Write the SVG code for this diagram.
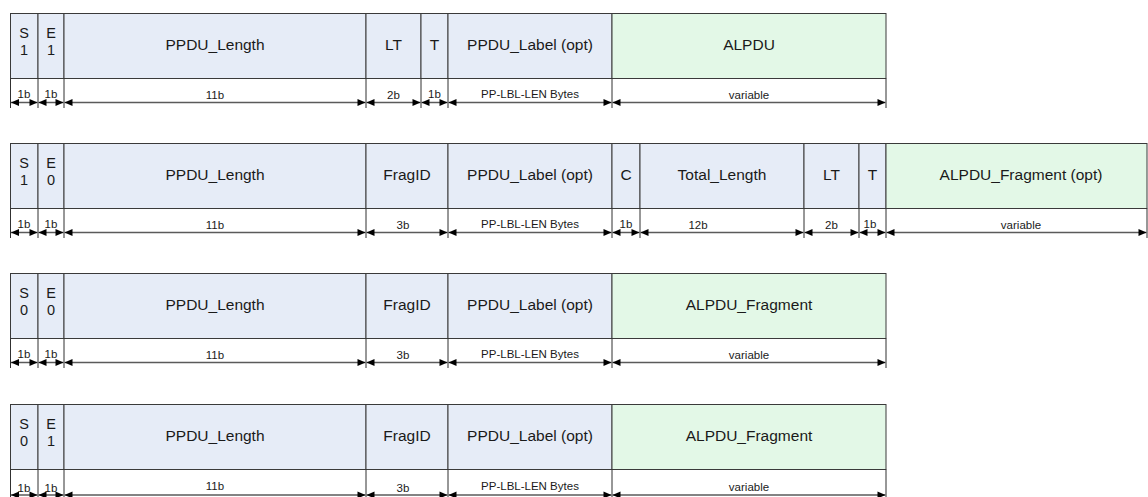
<svg xmlns="http://www.w3.org/2000/svg" width="1148" height="497" viewBox="0 0 1148 497">
<style>
.b{fill:#e6ecf7;stroke:#3a3a3a;stroke-width:1}
.g{fill:#e3f8e7;stroke:#3a3a3a;stroke-width:1}
.v{stroke:#303030;stroke-width:1;fill:none}
.t{font-family:"Liberation Sans",Arial,sans-serif;font-size:15.5px;fill:#1a1a1a;text-anchor:middle}
.se{font-size:14.5px}
.s{font-family:"Liberation Sans",Arial,sans-serif;font-size:11.5px;fill:#1a1a1a;text-anchor:middle}
.a{stroke:#5a5a5a;stroke-width:1.5;fill:none;marker-start:url(#ms);marker-end:url(#me)}
</style>
<defs>
<marker id="me" markerUnits="userSpaceOnUse" markerWidth="9" markerHeight="9" viewBox="0 0 9 9" refX="8.5" refY="4.5" orient="auto"><path d="M0.5,1 L8.5,4.5 L0.5,8 Z" fill="#000"/></marker>
<marker id="ms" markerUnits="userSpaceOnUse" markerWidth="9" markerHeight="9" viewBox="0 0 9 9" refX="0.5" refY="4.5" orient="auto"><path d="M8.5,1 L0.5,4.5 L8.5,8 Z" fill="#000"/></marker>
</defs>
<rect width="1148" height="497" fill="#fff"/>

<!-- Row 1 -->
<g id="r1-S"><rect class="b" x="10.5" y="13.5" width="27.5" height="65"/><text class="t se" x="24" y="38">S</text><text class="t se" x="24" y="54.5">1</text></g>
<g id="r1-E"><rect class="b" x="38" y="13.5" width="26" height="65"/><text class="t se" x="51" y="38">E</text><text class="t se" x="51" y="54.5">1</text></g>
<g id="r1-PPDU_Length"><rect class="b" x="64" y="13.5" width="302" height="65"/><text class="t" x="215" y="50">PPDU_Length</text></g>
<g id="r1-LT"><rect class="b" x="366" y="13.5" width="55" height="65"/><text class="t" x="393.5" y="50">LT</text></g>
<g id="r1-T"><rect class="b" x="421" y="13.5" width="27" height="65"/><text class="t" x="434.5" y="50">T</text></g>
<g id="r1-PPDU_Label"><rect class="b" x="448" y="13.5" width="164" height="65"/><text class="t" x="530" y="50">PPDU_Label (opt)</text></g>
<g id="r1-ALPDU"><rect class="g" x="612" y="13.5" width="274" height="65"/><text class="t" x="749" y="50">ALPDU</text></g>

<!-- Row 2 -->
<g id="r2-S"><rect class="b" x="10.5" y="143.5" width="27.5" height="65"/><text class="t se" x="24" y="168">S</text><text class="t se" x="24" y="184.5">1</text></g>
<g id="r2-E"><rect class="b" x="38" y="143.5" width="26" height="65"/><text class="t se" x="51" y="168">E</text><text class="t se" x="51" y="184.5">0</text></g>
<g id="r2-PPDU_Length"><rect class="b" x="64" y="143.5" width="302" height="65"/><text class="t" x="215" y="180">PPDU_Length</text></g>
<g id="r2-FragID"><rect class="b" x="366" y="143.5" width="82" height="65"/><text class="t" x="407" y="180">FragID</text></g>
<g id="r2-PPDU_Label"><rect class="b" x="448" y="143.5" width="164" height="65"/><text class="t" x="530" y="180">PPDU_Label (opt)</text></g>
<g id="r2-C"><rect class="b" x="612" y="143.5" width="28" height="65"/><text class="t" x="626" y="180">C</text></g>
<g id="r2-Total_Length"><rect class="b" x="640" y="143.5" width="164" height="65"/><text class="t" x="722" y="180">Total_Length</text></g>
<g id="r2-LT"><rect class="b" x="804" y="143.5" width="55" height="65"/><text class="t" x="831.5" y="180">LT</text></g>
<g id="r2-T"><rect class="b" x="859" y="143.5" width="27" height="65"/><text class="t" x="872.5" y="180">T</text></g>
<g id="r2-ALPDU_Fragment"><rect class="g" x="886" y="143.5" width="261" height="65"/><text class="t" x="1021" y="180">ALPDU_Fragment (opt)</text></g>

<!-- Row 3 -->
<g id="r3-S"><rect class="b" x="10.5" y="273.5" width="27.5" height="65"/><text class="t se" x="24" y="298">S</text><text class="t se" x="24" y="314.5">0</text></g>
<g id="r3-E"><rect class="b" x="38" y="273.5" width="26" height="65"/><text class="t se" x="51" y="298">E</text><text class="t se" x="51" y="314.5">0</text></g>
<g id="r3-PPDU_Length"><rect class="b" x="64" y="273.5" width="302" height="65"/><text class="t" x="215" y="310">PPDU_Length</text></g>
<g id="r3-FragID"><rect class="b" x="366" y="273.5" width="82" height="65"/><text class="t" x="407" y="310">FragID</text></g>
<g id="r3-PPDU_Label"><rect class="b" x="448" y="273.5" width="164" height="65"/><text class="t" x="530" y="310">PPDU_Label (opt)</text></g>
<g id="r3-ALPDU_Fragment"><rect class="g" x="612" y="273.5" width="274" height="65"/><text class="t" x="749" y="310">ALPDU_Fragment</text></g>

<!-- Row 4 -->
<g id="r4-S"><rect class="b" x="10.5" y="404.5" width="27.5" height="65"/><text class="t se" x="24" y="429">S</text><text class="t se" x="24" y="445.5">0</text></g>
<g id="r4-E"><rect class="b" x="38" y="404.5" width="26" height="65"/><text class="t se" x="51" y="429">E</text><text class="t se" x="51" y="445.5">1</text></g>
<g id="r4-PPDU_Length"><rect class="b" x="64" y="404.5" width="302" height="65"/><text class="t" x="215" y="441">PPDU_Length</text></g>
<g id="r4-FragID"><rect class="b" x="366" y="404.5" width="82" height="65"/><text class="t" x="407" y="441">FragID</text></g>
<g id="r4-PPDU_Label"><rect class="b" x="448" y="404.5" width="164" height="65"/><text class="t" x="530" y="441">PPDU_Label (opt)</text></g>
<g id="r4-ALPDU_Fragment"><rect class="g" x="612" y="404.5" width="274" height="65"/><text class="t" x="749" y="441">ALPDU_Fragment</text></g>

<!-- divider extensions below fields -->
<g id="extensions" class="v">
<path d="M10.5,78.5V108M38,78.5V108M64,78.5V108M366,78.5V108M421,78.5V108M448,78.5V108M612,78.5V108M886,78.5V108"/>
<path d="M10.5,208.5V238M38,208.5V238M64,208.5V238M366,208.5V238M448,208.5V238M612,208.5V238M640,208.5V238M804,208.5V238M859,208.5V238M886,208.5V238M1147,208.5V238"/>
<path d="M10.5,338.5V368M38,338.5V368M64,338.5V368M366,338.5V368M448,338.5V368M612,338.5V368M886,338.5V368"/>
<path d="M10.5,469.5V497M38,469.5V497M64,469.5V497M366,469.5V497M448,469.5V497M612,469.5V497M886,469.5V497"/>
</g>

<!-- size labels -->
<g id="sizes" class="s">
<text x="24" y="98">1b</text><text x="51" y="98">1b</text><text x="215" y="99">11b</text><text x="393.5" y="99">2b</text><text x="434.5" y="98">1b</text><text x="530" y="98">PP-LBL-LEN Bytes</text><text x="749" y="99">variable</text>
<text x="24" y="228">1b</text><text x="51" y="228">1b</text><text x="215" y="229">11b</text><text x="403" y="229">3b</text><text x="530" y="228">PP-LBL-LEN Bytes</text><text x="626" y="228">1b</text><text x="698" y="229">12b</text><text x="831.5" y="229">2b</text><text x="870" y="228">1b</text><text x="1021" y="229">variable</text>
<text x="24" y="358">1b</text><text x="51" y="358">1b</text><text x="215" y="359">11b</text><text x="403" y="359">3b</text><text x="530" y="358">PP-LBL-LEN Bytes</text><text x="749" y="359">variable</text>
<text x="24" y="492">1b</text><text x="51" y="492">1b</text><text x="215" y="490">11b</text><text x="403" y="492">3b</text><text x="530" y="490">PP-LBL-LEN Bytes</text><text x="749" y="491">variable</text>
</g>

<!-- dimension arrows -->
<g id="connectors">
<path class="a" d="M11,102.5H37.5"/><path class="a" d="M38.5,102.5H63.5"/><path class="a" d="M64.5,102.5H365.5"/><path class="a" d="M366.5,102.5H420.5"/><path class="a" d="M421.5,102.5H447.5"/><path class="a" d="M448.5,102.5H611.5"/><path class="a" d="M612.5,102.5H885.5"/>
<path class="a" d="M11,232.5H37.5"/><path class="a" d="M38.5,232.5H63.5"/><path class="a" d="M64.5,232.5H365.5"/><path class="a" d="M366.5,232.5H447.5"/><path class="a" d="M448.5,232.5H611.5"/><path class="a" d="M612.5,232.5H639.5"/><path class="a" d="M640.5,232.5H803.5"/><path class="a" d="M804.5,232.5H858.5"/><path class="a" d="M859.5,232.5H885.5"/><path class="a" d="M886.5,232.5H1146.5"/>
<path class="a" d="M11,362.5H37.5"/><path class="a" d="M38.5,362.5H63.5"/><path class="a" d="M64.5,362.5H365.5"/><path class="a" d="M366.5,362.5H447.5"/><path class="a" d="M448.5,362.5H611.5"/><path class="a" d="M612.5,362.5H885.5"/>
<path class="a" d="M11,495H37.5"/><path class="a" d="M38.5,495H63.5"/><path class="a" d="M64.5,495H365.5"/><path class="a" d="M366.5,495H447.5"/><path class="a" d="M448.5,495H611.5"/><path class="a" d="M612.5,495H885.5"/>
</g>
</svg>
